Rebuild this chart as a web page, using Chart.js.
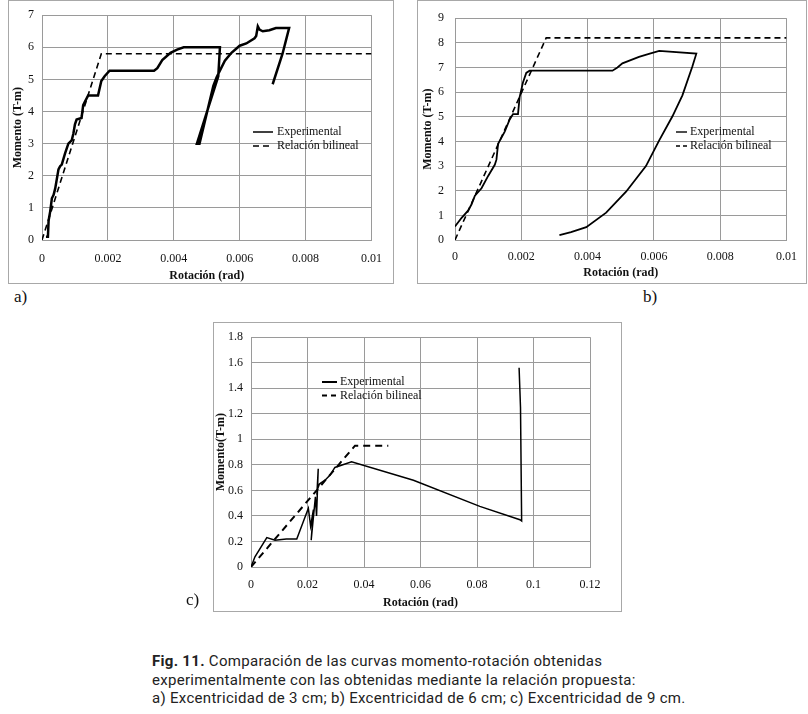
<!DOCTYPE html>
<html><head><meta charset="utf-8">
<script src="https://cdn.jsdelivr.net/npm/chart.js@4/dist/chart.umd.min.js"></script>
<style>
html,body{margin:0;padding:0;background:#fff;}
body{width:808px;height:714px;position:relative;overflow:hidden;}
canvas{position:absolute;}
.box{position:absolute;border:1px solid #a8a8a8;box-sizing:border-box;pointer-events:none;}
.lab{position:absolute;font-family:'Liberation Serif','Times New Roman',serif;font-size:17px;color:#111;line-height:20px;}
.cap{position:absolute;left:152px;top:652px;font-family:Roboto,'Liberation Sans',sans-serif;font-size:15px;letter-spacing:0.3px;line-height:18.5px;color:#222;white-space:nowrap;}
</style></head>
<body>
<canvas id="ca" width="386" height="284" style="left:8px;top:0px"></canvas>
<canvas id="cb" width="390" height="284" style="left:417px;top:0px"></canvas>
<canvas id="cc" width="409" height="290" style="left:213px;top:322px"></canvas>
<div class="box" style="left:8px;top:0px;width:386px;height:284px"></div>
<div class="box" style="left:417px;top:0px;width:390px;height:284px"></div>
<div class="box" style="left:213px;top:322px;width:409px;height:290px"></div>
<div class="lab" style="left:14px;top:287px">a)</div>
<div class="lab" style="left:643px;top:287px">b)</div>
<div class="lab" style="left:186px;top:590px">c)</div>
<div class="cap"><b>Fig. 11.</b> Comparación de las curvas momento-rotación obtenidas<br>experimentalmente con las obtenidas mediante la relación propuesta:<br>a) Excentricidad de 3 cm; b) Excentricidad de 6 cm; c) Excentricidad de 9 cm.</div>
<script>
// ---------- data ----------
const seriesNames = ['Experimental', 'Relación bilineal'];
const xTitle = 'Rotación (rad)';
const yTitle = 'Momento (T-m)';

// panel a
const xTicksA = [0, 0.002, 0.004, 0.006, 0.008, 0.01];
const xLabelsA = ['0', '0.002', '0.004', '0.006', '0.008', '0.01'];
const yTicksA = [0, 1, 2, 3, 4, 5, 6, 7];
const yLabelsA = ['0', '1', '2', '3', '4', '5', '6', '7'];
const expA_x = [0.00012,0.00018,0.0002,0.00025,0.0003,0.00035,0.0004,0.0005,0.00055,0.0006,0.0007,0.0008,0.0009,0.00095,0.001,0.00105,0.0012,0.00125,0.0013,0.0014,0.0017,0.0018,0.0019,0.00205,0.0034,0.0035,0.00365,0.0039,0.0041,0.0043,0.0054,0.00535,0.0047,0.00478,0.0052,0.0053,0.00555,0.00575,0.006,0.0062,0.00645,0.0065,0.00655,0.0066,0.0067,0.0069,0.0071,0.0075,0.0074,0.0073,0.007];
const expA_y = [0.1,0.1,0.6,0.9,1.3,1.4,1.6,2.2,2.3,2.35,2.7,3.0,3.1,3.3,3.6,3.75,3.8,4.2,4.3,4.5,4.5,4.95,5.1,5.27,5.27,5.35,5.6,5.83,5.93,6.0,6.0,5.1,3.0,3.0,4.8,5.07,5.58,5.83,6.05,6.12,6.28,6.35,6.65,6.55,6.5,6.53,6.6,6.6,6.2,5.8,4.85];
const bilA_x = [0, 0.0018, 0.01];
const bilA_y = [0, 5.8, 5.8];

// panel b
const xTicksB = [0, 0.002, 0.004, 0.006, 0.008, 0.01];
const xLabelsB = ['0', '0.002', '0.004', '0.006', '0.008', '0.01'];
const yTicksB = [0, 1, 2, 3, 4, 5, 6, 7, 8, 9];
const yLabelsB = ['0', '1', '2', '3', '4', '5', '6', '7', '8', '9'];
const expB_x = [0,0.0002,0.0004,0.0005,0.0006,0.0008,0.001,0.0012,0.00125,0.0013,0.0015,0.00165,0.00175,0.0019,0.00195,0.00205,0.00215,0.00225,0.00475,0.0049,0.00505,0.00555,0.00585,0.00616,0.00728,0.00716,0.00686,0.00656,0.00616,0.00576,0.00516,0.00456,0.00396,0.0035,0.00315];
const expB_y = [0.55,0.9,1.2,1.45,1.8,2.1,2.6,3.05,3.26,3.9,4.4,4.89,5.11,5.11,5.8,6.39,6.78,6.87,6.87,7.0,7.17,7.43,7.55,7.67,7.56,7.04,5.87,5.02,4.04,3.0,1.96,1.11,0.52,0.32,0.2];
const bilB_x = [0, 0.00275, 0.01];
const bilB_y = [0, 8.2, 8.2];

// panel c
const xTicksC = [0, 0.02, 0.04, 0.06, 0.08, 0.1, 0.12];
const xLabelsC = ['0', '0.02', '0.04', '0.06', '0.08', '0.1', '0.12'];
const yTicksC = [0, 0.2, 0.4, 0.6, 0.8, 1, 1.2, 1.4, 1.6, 1.8];
const yLabelsC = ['0', '0.2', '0.4', '0.6', '0.8', '1', '1.2', '1.4', '1.6', '1.8'];
const expC_x = [0,0.0014,0.0056,0.0085,0.0125,0.0162,0.0203,0.0211,0.0221,0.0213,0.0228,0.0232,0.0238,0.0234,0.0242,0.0262,0.028,0.0297,0.0356,0.0575,0.081,0.0952,0.0958,0.0954,0.0949];
const expC_y = [0,0.08,0.23,0.21,0.22,0.22,0.46,0.32,0.45,0.21,0.55,0.40,0.77,0.60,0.65,0.68,0.72,0.78,0.825,0.68,0.475,0.37,0.36,1.25,1.56];
const bilC_x = [0, 0.0368, 0.0486];
const bilC_y = [0, 0.95, 0.95];

// ---------- helpers ----------
Chart.defaults.font.family = "'Liberation Serif','Times New Roman',serif";
Chart.defaults.font.size = 12;
Chart.defaults.color = '#111';

const pts = (xs, ys) => xs.map((x, i) => ({x: x, y: ys[i]}));

const inLegend = {
  id: 'inLegend',
  afterDraw(chart, args, o) {
    const ctx = chart.ctx;
    ctx.save();
    chart.data.datasets.forEach((ds, i) => {
      const y = o.y + i * o.rowH;
      ctx.beginPath();
      ctx.strokeStyle = ds.borderColor;
      ctx.lineWidth = o.lw;
      ctx.setLineDash(ds.borderDash ? o.dash : []);
      ctx.moveTo(o.x, y);
      ctx.lineTo(o.x + o.len, y);
      ctx.stroke();
      ctx.setLineDash([]);
      ctx.fillStyle = '#111';
      ctx.font = o.font;
      ctx.textBaseline = 'middle';
      ctx.textAlign = 'left';
      ctx.fillText(ds.label, o.x + o.len + o.gap, y);
    });
    ctx.restore();
  }
};

function makeChart(id, cfg) {
  const grid = {color: '#9a9a9a', lineWidth: 1, drawTicks: false};
  return new Chart(document.getElementById(id), {
    type: 'scatter',
    data: {
      datasets: [
        {label: seriesNames[0], data: pts(cfg.ex, cfg.ey), showLine: true, borderColor: '#000', borderWidth: cfg.expW, pointRadius: 0, tension: 0},
        {label: seriesNames[1], data: pts(cfg.bx, cfg.by), showLine: true, borderColor: '#000', borderWidth: cfg.bilW, borderDash: cfg.dash, pointRadius: 0, tension: 0}
      ]
    },
    options: {
      responsive: false, animation: false, devicePixelRatio: 1,
      layout: {padding: {left: 0, right: cfg.padR, top: cfg.padT, bottom: 0}},
      plugins: {legend: {display: false}, tooltip: {enabled: false}, inLegend: cfg.legend},
      scales: {
        x: {
          type: 'linear', min: cfg.xt[0], max: cfg.xt[cfg.xt.length - 1],
          grid: grid, border: {color: '#9a9a9a'},
          afterBuildTicks: s => { s.ticks = cfg.xt.map(v => ({value: v})); },
          afterFit: s => { s.height = cfg.xH; },
          ticks: {padding: cfg.xPad, maxRotation: 0, autoSkip: false, callback: (v, i) => cfg.xl[i]},
          title: {display: true, text: xTitle, font: {weight: 'bold', size: 12}, padding: {top: 0, bottom: cfg.xTitleB}}
        },
        y: {
          type: 'linear', min: cfg.yt[0], max: cfg.yt[cfg.yt.length - 1],
          grid: grid, border: {color: '#9a9a9a'},
          afterBuildTicks: s => { s.ticks = cfg.yt.map(v => ({value: v})); },
          afterFit: s => { s.width = cfg.yW; },
          ticks: {padding: cfg.yPad, autoSkip: false, callback: (v, i) => cfg.yl[i]},
          title: {display: true, text: cfg.yTitle || yTitle, font: {weight: 'bold', size: 12}, padding: {top: cfg.yTitleT, bottom: 0}}
        }
      }
    },
    plugins: [inLegend]
  });
}

makeChart('ca', {
  ex: expA_x, ey: expA_y, bx: bilA_x, by: bilA_y,
  xt: xTicksA, xl: xLabelsA, yt: yTicksA, yl: yLabelsA,
  expW: 2.5, bilW: 1.6, dash: [6, 4],
  padR: 19, padT: 10, xH: 44, yW: 34, xPad: 12, yPad: 8, xTitleB: 1, yTitleT: 3,
  legend: {x: 245, y: 132, rowH: 14, len: 20, gap: 4, lw: 1.5, dash: [6, 4], font: "12px 'Liberation Serif','Times New Roman',serif"}
});

makeChart('cb', {
  ex: expB_x, ey: expB_y, bx: bilB_x, by: bilB_y,
  xt: xTicksB, xl: xLabelsB, yt: yTicksB, yl: yLabelsB,
  expW: 1.8, bilW: 1.6, dash: [6, 4],
  padR: 19, padT: 10, xH: 44, yW: 38, xPad: 10, yPad: 11, xTitleB: 4, yTitleT: 4,
  legend: {x: 259, y: 132, rowH: 14, len: 11, gap: 3, lw: 1.4, dash: [4, 3], font: "12px 'Liberation Serif','Times New Roman',serif"}
});

makeChart('cc', {
  ex: expC_x, ey: expC_y, bx: bilC_x, by: bilC_y,
  xt: xTicksC, xl: xLabelsC, yt: yTicksC, yl: yLabelsC,
  expW: 1.5, bilW: 2, dash: [7, 5],
  padR: 32, padT: 10, xH: 45, yW: 38, xPad: 11, yPad: 8, xTitleB: 2, yTitleT: 1,
  yTitle: 'Momento(T-m)',
  legend: {x: 109, y: 60, rowH: 13.5, len: 15, gap: 3, lw: 2, dash: [5, 4], font: "12px 'Liberation Serif','Times New Roman',serif"}
});
</script>
</body></html>
